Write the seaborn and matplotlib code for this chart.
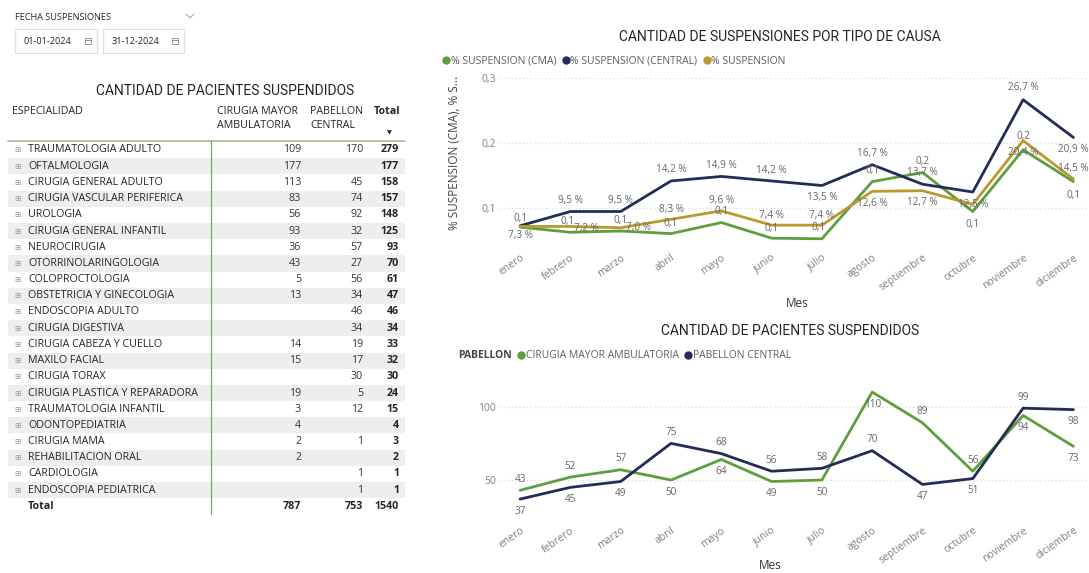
import matplotlib
matplotlib.use("Agg")
import matplotlib.pyplot as plt
import seaborn as sns
import pandas as pd
import numpy as np
from matplotlib.lines import Line2D
from matplotlib.patches import Rectangle

# ---------------- data ----------------
meses = ["enero", "febrero", "marzo", "abril", "mayo", "junio", "julio",
         "agosto", "septiembre", "octubre", "noviembre", "diciembre"]

pct_cma = [0.071, 0.063, 0.065, 0.061, 0.078, 0.054, 0.053, 0.141, 0.155, 0.095, 0.190, 0.141]
pct_central = [0.073, 0.095, 0.095, 0.142, 0.149, 0.142, 0.135, 0.167, 0.137, 0.125, 0.267, 0.209]
pct_total = [0.072, 0.072, 0.070, 0.083, 0.096, 0.074, 0.074, 0.126, 0.127, 0.106, 0.204, 0.145]

pac_cma = [43, 52, 57, 50, 64, 49, 50, 110, 89, 56, 94, 73]
pac_central = [37, 45, 49, 75, 68, 56, 58, 70, 47, 51, 99, 98]

especialidades = ["TRAUMATOLOGIA ADULTO", "OFTALMOLOGIA", "CIRUGIA GENERAL ADULTO",
                  "CIRUGIA VASCULAR PERIFERICA", "UROLOGIA", "CIRUGIA GENERAL INFANTIL",
                  "NEUROCIRUGIA", "OTORRINOLARINGOLOGIA", "COLOPROCTOLOGIA",
                  "OBSTETRICIA Y GINECOLOGIA", "ENDOSCOPIA ADULTO", "CIRUGIA DIGESTIVA",
                  "CIRUGIA CABEZA Y CUELLO", "MAXILO FACIAL", "CIRUGIA TORAX",
                  "CIRUGIA PLASTICA Y REPARADORA", "TRAUMATOLOGIA INFANTIL", "ODONTOPEDIATRIA",
                  "CIRUGIA MAMA", "REHABILITACION ORAL", "CARDIOLOGIA", "ENDOSCOPIA PEDIATRICA"]
tabla_cma = [109, 177, 113, 83, 56, 93, 36, 43, 5, 13, None, None, 14, 15, None, 19, 3, 4, 2, 2, None, None]
tabla_central = [170, None, 45, 74, 92, 32, 57, 27, 56, 34, 46, 34, 19, 17, 30, 5, 12, None, 1, None, 1, 1]

fecha_inicio = "01-01-2024"
fecha_fin = "31-12-2024"

# ---------------- style ----------------
sns.set_style("white")
plt.rcParams["font.family"] = ["Open Sans", "DejaVu Sans"]

GREEN = "#5E9E3E"
NAVY = "#232C57"
GOLD = "#BA9A2E"
LABEL_C = "#666666"
TEXT_C = "#252423"
TITLE_FONT = ["Roboto", "DejaVu Sans"]

W, H = 1089, 573
fig = plt.figure(figsize=(W / 100, H / 100), dpi=100)
fig.patch.set_facecolor("white")

def fx(px):
    return px / W

def fy(py):
    return 1 - py / H

# label offsets (pixels, +up); None = hidden label
off_top_central = [(0, -10), (0, 11), (0, 11), (0, 11), (0, 11), (0, 10), (0, -12),
                   (0, 11), (0, 12), (0, -12), (0, 12), (0, -12)]
off_top_total = [None, (16, -2), (18, 0), (0, 10), (0, 10), (0, 10), (0, 10),
                 (0, -12), (0, -12), None, (0, -12), (0, 11)]
off_top_cma = [(0, 9), (-3, 11), (0, 11), (0, 10), (0, 11), (0, 10), (-3, 11),
               (0, 11), (0, 11), (0, -13), (0, 13), (0, -14)]
off_bot_central = [-12, -12, -12, 11, 11, 11, 11, 11, -12, -12, 11, -12]
off_bot_cma = [11, 11, 11, -12, -12, -12, -12, -12, 11, 11, -12, -12]

def fmt_pct(v):
    return f"{v * 100:.1f}".replace(".", ",") + " %"

def fmt_dec(v):
    return f"{v:.1f}".replace(".", ",")

def style_axes(ax):
    for s in ax.spines.values():
        s.set_visible(False)
    ax.set_facecolor("none")
    ax.yaxis.grid(True, linestyle=(0, (1, 2)), color="#D9D9D9", linewidth=0.9)
    ax.xaxis.grid(False)
    ax.tick_params(axis="both", length=0, colors="#808080", labelsize=7.5)
    ax.set_xticks(range(12))
    ax.set_xticklabels(meses, rotation=35, ha="right", rotation_mode="anchor")
    ax.tick_params(axis="x", pad=6)
    ax.tick_params(axis="y", pad=3)
    ax.set_xlim(-0.4, 11.3)

# ---------------- top chart ----------------
ax1 = fig.add_axes([fx(500), fy(244), fx(588.5), (244 - 78.3) / H])
df1 = pd.DataFrame({
    "Mes": list(range(12)) * 3,
    "valor": pct_cma + pct_central + pct_total,
    "serie": ["% SUSPENSION (CMA)"] * 12 + ["% SUSPENSION (CENTRAL)"] * 12 + ["% SUSPENSION"] * 12,
})
pal1 = {"% SUSPENSION (CMA)": GREEN, "% SUSPENSION (CENTRAL)": NAVY, "% SUSPENSION": GOLD}
sns.lineplot(data=df1, x="Mes", y="valor", hue="serie", palette=pal1, ax=ax1,
             linewidth=2.0, legend=False, sort=False)
style_axes(ax1)
ax1.set_ylim(0.045, 0.3)
ax1.set_yticks([0.1, 0.2, 0.3])
ax1.set_yticklabels(["0,1", "0,2", "0,3"])
ax1.set_xlabel("Mes", fontsize=8.5, color="#333333")
ax1.xaxis.set_label_coords(0.505, -0.32)
ax1.set_ylabel("% SUSPENSION (CMA), % S...", fontsize=8.5, color="#444444")
ax1.yaxis.set_label_coords(-0.066, 0.55)

for vals, offs, fmt in [(pct_central, off_top_central, fmt_pct),
                        (pct_total, off_top_total, fmt_pct),
                        (pct_cma, off_top_cma, fmt_dec)]:
    for i, v in enumerate(vals):
        if offs[i] is None:
            continue
        ax1.annotate(fmt(v), (i, v), xytext=offs[i], textcoords="offset pixels",
                     ha="center", va="center", fontsize=7.2, color=LABEL_C)

fig.text(fx(780), fy(37), "CANTIDAD DE SUSPENSIONES POR TIPO DE CAUSA", ha="center",
         va="center", fontsize=10, color=TEXT_C, family=TITLE_FONT)
h1 = [Line2D([], [], marker="o", linestyle="none", color=c, markersize=5) for c in [GREEN, NAVY, GOLD]]
fig.legend(h1, ["% SUSPENSION (CMA)", "% SUSPENSION (CENTRAL)", "% SUSPENSION"],
           loc="center left", bbox_to_anchor=(fx(443), fy(61)), ncol=3, frameon=False,
           fontsize=7.5, labelcolor="#605E5C", handlelength=0.6, handletextpad=0.15,
           columnspacing=0.6, borderpad=0, borderaxespad=0)

# ---------------- bottom chart ----------------
ax2 = fig.add_axes([fx(500), fy(516.7), fx(588.5), (516.7 - 384.7) / H])
df2 = pd.DataFrame({
    "Mes": list(range(12)) * 2,
    "valor": pac_cma + pac_central,
    "serie": ["CIRUGIA MAYOR AMBULATORIA"] * 12 + ["PABELLON CENTRAL"] * 12,
})
pal2 = {"CIRUGIA MAYOR AMBULATORIA": GREEN, "PABELLON CENTRAL": NAVY}
sns.lineplot(data=df2, x="Mes", y="valor", hue="serie", palette=pal2, ax=ax2,
             linewidth=2.0, legend=False, sort=False)
style_axes(ax2)
ax2.set_ylim(25, 115)
ax2.set_yticks([50, 100])
ax2.set_yticklabels(["50", "100"])
ax2.set_ylabel("")
ax2.set_xlabel("Mes", fontsize=8.5, color="#333333")
ax2.xaxis.set_label_coords(0.459, -0.318)

for vals, offs in [(pac_central, off_bot_central), (pac_cma, off_bot_cma)]:
    for i, v in enumerate(vals):
        ax2.annotate(str(v), (i, v), xytext=(0, offs[i]), textcoords="offset pixels",
                     ha="center", va="center", fontsize=7.2, color=LABEL_C)

fig.text(fx(790), fy(331), "CANTIDAD DE PACIENTES SUSPENDIDOS", ha="center", va="center",
         fontsize=10, color=TEXT_C, family=TITLE_FONT)
fig.text(fx(458), fy(356), "PABELLON", ha="left", va="center", fontsize=7.5,
         fontweight="bold", color="#444444")
h2 = [Line2D([], [], marker="o", linestyle="none", color=c, markersize=5) for c in [GREEN, NAVY]]
fig.legend(h2, ["CIRUGIA MAYOR AMBULATORIA", "PABELLON CENTRAL"],
           loc="center left", bbox_to_anchor=(fx(518), fy(356)), ncol=2, frameon=False,
           fontsize=7.5, labelcolor="#605E5C", handlelength=0.6, handletextpad=0.15,
           columnspacing=0.6, borderpad=0, borderaxespad=0)

# ---------------- table & slicer (pixel overlay) ----------------
ov = fig.add_axes([0, 0, 1, 1], zorder=-1)
ov.set_xlim(0, W)
ov.set_ylim(H, 0)
ov.axis("off")

# slicer
ov.text(15, 18, "FECHA SUSPENSIONES", fontsize=6.6, color=TEXT_C, va="center", ha="left")
ov.plot([186, 190, 194], [14, 18, 14], color="#9E9E9E", lw=0.7)
for x0, w, txt in [(15, 82, fecha_inicio), (103, 81, fecha_fin)]:
    ov.add_patch(Rectangle((x0, 29), w, 24, fill=False, edgecolor="#E1DFDD", lw=0.9))
    ov.text(x0 + 9, 41.5, txt, fontsize=6.6, color=TEXT_C, va="center", ha="left")
    ov.add_patch(Rectangle((x0 + w - 12, 38), 6, 6, fill=False, edgecolor="#8A8A8A", lw=0.6))
    ov.plot([x0 + w - 12, x0 + w - 6], [40, 40], color="#8A8A8A", lw=0.6)

ov.text(225, 91, "CANTIDAD DE PACIENTES SUSPENDIDOS", fontsize=10, color=TEXT_C,
        ha="center", va="center", family=TITLE_FONT)

# header
hdr_fs = 7.7
ov.text(12, 112, "ESPECIALIDAD", fontsize=hdr_fs, color=TEXT_C, va="center")
ov.text(217, 112, "CIRUGIA MAYOR", fontsize=hdr_fs, color=TEXT_C, va="center")
ov.text(217, 125, "AMBULATORIA", fontsize=hdr_fs, color=TEXT_C, va="center")
ov.text(310, 112, "PABELLON", fontsize=hdr_fs, color=TEXT_C, va="center")
ov.text(310, 125, "CENTRAL", fontsize=hdr_fs, color=TEXT_C, va="center")
ov.text(400, 112, "Total", fontsize=hdr_fs, color=TEXT_C, va="center", ha="right", fontweight="bold")
ov.text(389, 133, "▼", fontsize=4.5, color=TEXT_C, va="center", ha="center", family=["DejaVu Sans"])
ov.plot([8, 405], [141, 141], color="#A9C29A", lw=1.3)

row0, rowh = 150, 16.2
row_fs = 7.7
for i, name in enumerate(especialidades):
    y = row0 + i * rowh
    if i % 2 == 1:
        ov.add_patch(Rectangle((8, y - rowh / 2), 397, rowh, color="#EEEEEE", lw=0))
    ov.text(17, y, "⊞", fontsize=5.5, color="#9A9A9A", va="center", ha="center",
            family=["DejaVu Sans"])
    ov.text(28, y, name, fontsize=row_fs, color=TEXT_C, va="center", ha="left")
    c = tabla_cma[i]
    p = tabla_central[i]
    if c is not None:
        ov.text(301, y, str(c), fontsize=row_fs, color="#333333", va="center", ha="right")
    if p is not None:
        ov.text(363, y, str(p), fontsize=row_fs, color="#333333", va="center", ha="right")
    tot = (c or 0) + (p or 0)
    ov.text(399, y, str(tot), fontsize=row_fs, color=TEXT_C, va="center", ha="right",
            fontweight="bold")

ty = row0 + len(especialidades) * rowh
tot_cma = sum(v for v in tabla_cma if v is not None)
tot_central = sum(v for v in tabla_central if v is not None)
ov.text(28, ty, "Total", fontsize=row_fs, color=TEXT_C, va="center", fontweight="bold")
ov.text(301, ty, str(tot_cma), fontsize=row_fs, color=TEXT_C, va="center", ha="right", fontweight="bold")
ov.text(363, ty, str(tot_central), fontsize=row_fs, color=TEXT_C, va="center", ha="right", fontweight="bold")
ov.text(399, ty, str(tot_cma + tot_central), fontsize=row_fs, color=TEXT_C, va="center",
        ha="right", fontweight="bold")
ov.plot([211, 211], [141, 514], color="#72AA55", lw=0.9)

fig.savefig("out.png", dpi=100, facecolor="white")
